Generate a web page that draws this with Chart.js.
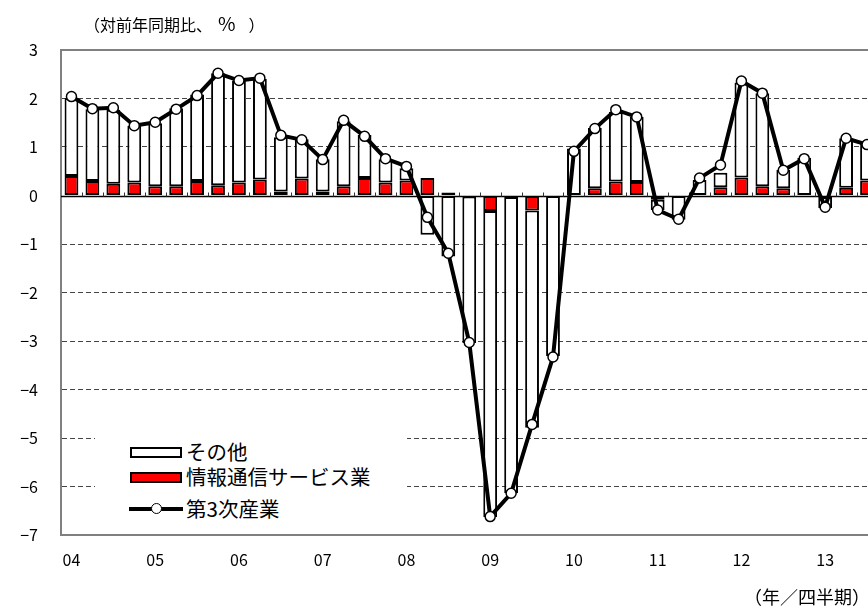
<!DOCTYPE html>
<html>
<head>
<meta charset="utf-8">
<script src="https://cdn.jsdelivr.net/npm/chart.js@4.4.1/dist/chart.umd.min.js"></script>
<style>
  html, body { margin:0; padding:0; width:868px; height:608px; overflow:hidden; background:#fff; }
  body { position:relative; font-family:"Noto Sans CJK JP", sans-serif; color:#000; }
  #wrap { position:absolute; left:0; top:0; width:884px; height:608px; }
  .txt { position:absolute; white-space:nowrap; line-height:1; }
  #legendBox { position:absolute; left:95px; top:422px; width:312px; height:106px; background:#fff; }
  .sym { position:absolute; box-sizing:border-box; }
</style>
</head>
<body>
<div id="wrap"><canvas id="c"></canvas></div>
<div class="txt" id="title" style="left:84px; top:13px; font-size:16px;">（対前年同期比<span style="letter-spacing:6px;">、</span><span style="font-size:19px; letter-spacing:13px;">%</span>）</div>
<div class="txt" id="xunit" style="left:744px; top:587px; font-size:18px;">（年／四半期）</div>
<div id="legendBox"></div>
<div class="sym" style="left:130px; top:447px; width:52px; height:11px; border:2px solid #000; background:#fff;"></div>
<div class="sym" style="left:130px; top:472px; width:52px; height:11px; border:2px solid #000; background:#ff0000;"></div>
<div class="sym" style="left:129px; top:507px; width:54px; height:4px; background:#000;"></div>
<div class="sym" style="left:151px; top:503px; width:11px; height:11px; border:1.5px solid #000; background:#fff; border-radius:50%;"></div>
<div class="txt" style="left:186px; top:441px; font-size:20.5px;">その他</div>
<div class="txt" style="left:186px; top:466px; font-size:20.5px;">情報通信サービス業</div>
<div class="txt" style="left:186px; top:498px; font-size:20.5px;">第3次産業</div>
<script>
// ---- data ----
const quarters = [
  '04/1','04/2','04/3','04/4','05/1','05/2','05/3','05/4',
  '06/1','06/2','06/3','06/4','07/1','07/2','07/3','07/4',
  '08/1','08/2','08/3','08/4','09/1','09/2','09/3','09/4',
  '10/1','10/2','10/3','10/4','11/1','11/2','11/3','11/4',
  '12/1','12/2','12/3','12/4','13/1','13/2','13/3'
];
const yearTicks = ['04','05','06','07','08','09','10','11','12','13'];
const yTickValues = [3,2,1,0,-1,-2,-3,-4,-5,-6,-7];
// 第3次産業 (line)
const tertiary = [
  2.04,1.79,1.81,1.44,1.51,1.78,2.06,2.52,
  2.37,2.42,1.24,1.15,0.74,1.55,1.22,0.76,
  0.60,-0.45,-1.19,-3.03,-6.62,-6.14,-4.72,-3.33,
  0.91,1.38,1.77,1.62,-0.30,-0.49,0.36,0.63,
  2.36,2.11,0.52,0.76,-0.24,1.18,1.05
];
// 情報通信サービス業 (red bars)
const infoComm = [
  0.40,0.30,0.24,0.27,0.19,0.19,0.30,0.21,
  0.27,0.33,0.08,0.35,0.08,0.19,0.36,0.27,
  0.31,0.36,0.06,-0.02,-0.32,-0.03,-0.31,0.00,
  0.00,0.15,0.29,0.28,-0.09,0.00,0.00,0.17,
  0.37,0.19,0.15,0.00,-0.03,0.16,0.31
];
// その他 (white bars)
const others = [
  1.61,1.48,1.53,1.17,1.30,1.61,1.78,2.31,
  2.10,2.07,1.12,0.81,0.67,1.34,0.89,0.48,
  0.25,-0.81,-1.26,-3.02,-6.31,-6.11,-4.48,-3.31,
  0.97,1.24,1.43,1.34,-0.21,-0.50,0.32,0.30,
  1.96,1.92,0.38,0.78,-0.23,1.02,0.77
];

const FONT = '"Noto Sans CJK JP", "Noto Sans", sans-serif';

const framePlugin = {
  id: 'frame',
  beforeDatasetsDraw(chart) {
    const {ctx, chartArea: a, scales: {x, y}} = chart;
    ctx.save();
    ctx.strokeStyle = '#808080';
    ctx.lineWidth = 2;
    ctx.beginPath();
    ctx.moveTo(a.left - 1, a.top);
    ctx.lineTo(a.right, a.top);
    ctx.stroke();
    const y0 = Math.round(y.getPixelForValue(0)) + 0.5;
    ctx.strokeStyle = '#000';
    ctx.lineWidth = 1.5;
    ctx.beginPath();
    ctx.moveTo(a.left, y0);
    ctx.lineTo(a.right, y0);
    ctx.stroke();
    ctx.lineWidth = 1;
    ctx.strokeStyle = '#333';
    const n = quarters.length;
    for (let i = 1; i < n; i++) {
      const xp = Math.round((x.getPixelForValue(i - 1) + x.getPixelForValue(i)) / 2) + 0.5;
      ctx.beginPath();
      ctx.moveTo(xp, y0);
      ctx.lineTo(xp, y0 - 4);
      ctx.stroke();
    }
    ctx.restore();
  }
};

new Chart(document.getElementById('c'), {
  data: {
    labels: quarters,
    datasets: [
      {
        type: 'bar', label: '情報通信サービス業', data: infoComm, stack: 'bars',
        backgroundColor: '#ff0000', borderColor: '#000', borderWidth: 2, borderSkipped: false,
        barPercentage: 0.66, categoryPercentage: 1.0, order: 2
      },
      {
        type: 'bar', label: 'その他', data: others, stack: 'bars',
        backgroundColor: '#ffffff', borderColor: '#000', borderWidth: 2, borderSkipped: false,
        barPercentage: 0.66, categoryPercentage: 1.0, order: 2
      },
      {
        type: 'line', label: '第3次産業', data: tertiary, stack: 'line',
        borderColor: '#000', borderWidth: 4, tension: 0,
        pointRadius: 5, pointBorderWidth: 1.5, pointBackgroundColor: '#fff', pointBorderColor: '#000',
        order: 0
      }
    ]
  },
  options: {
    responsive: true, maintainAspectRatio: false, animation: false, devicePixelRatio: 1,
    layout: { padding: { left: 0, top: 50, right: 2, bottom: 33 } },
    plugins: { legend: { display: false }, tooltip: { enabled: false } },
    scales: {
      x: {
        stacked: true,
        grid: { display: false, drawTicks: false },
        border: { display: true, color: '#808080', width: 2 },
        ticks: {
          autoSkip: false, maxRotation: 0, minRotation: 0, padding: 15,
          color: '#000', font: { family: FONT, size: 16 },
          callback: (v, i) => (i % 4 === 0 ? yearTicks[i / 4] : '')
        },
        afterFit: (s) => { s.height = 40; }
      },
      y: {
        stacked: true,
        min: yTickValues[yTickValues.length - 1], max: yTickValues[0],
        afterBuildTicks: (s) => { s.ticks = yTickValues.map(v => ({ value: v })); },
        grid: {
          drawTicks: false, lineWidth: 1,
          color: (c) => {
            const v = c.tick && c.tick.value;
            return (v === 0 || v === 3 || v === -7) ? 'rgba(0,0,0,0)' : '#444';
          }
        },
        border: { display: true, color: '#808080', width: 2, dash: [5, 3] },
        ticks: {
          padding: 23, color: '#000', font: { family: FONT, size: 16 },
          callback: (v) => (v < 0 ? '−' + Math.abs(v) : String(v))
        },
        afterFit: (s) => { s.width = 61; }
      }
    }
  },
  plugins: [framePlugin]
});
</script>
</body>
</html>
